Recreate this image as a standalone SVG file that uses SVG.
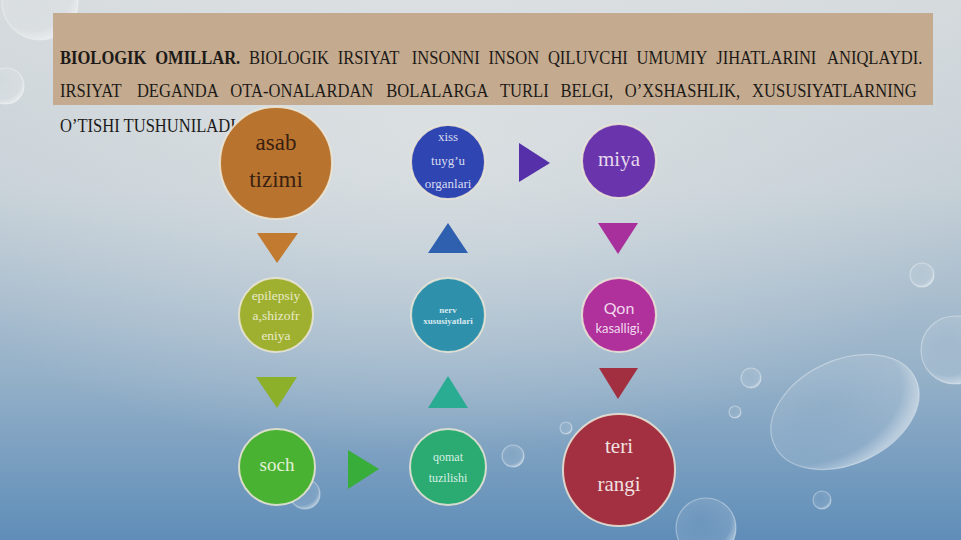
<svg xmlns="http://www.w3.org/2000/svg" width="961" height="540" viewBox="0 0 961 540">
<defs>
<linearGradient id="bg" x1="0" y1="0" x2="0" y2="1">
<stop offset="0" stop-color="#d5dadd"/>
<stop offset="0.35" stop-color="#c4cfd6"/>
<stop offset="0.7" stop-color="#94b0c8"/>
<stop offset="1" stop-color="#5f8db8"/>
</linearGradient>
<radialGradient id="glow" cx="0.45" cy="0.25" r="0.6">
<stop offset="0" stop-color="#e2e5e6" stop-opacity="0.7"/>
<stop offset="1" stop-color="#e2e5e6" stop-opacity="0"/>
</radialGradient>
<radialGradient id="bub" cx="0.4" cy="0.35" r="0.65">
<stop offset="0" stop-color="#ffffff" stop-opacity="0.05"/>
<stop offset="0.8" stop-color="#ffffff" stop-opacity="0.12"/>
<stop offset="1" stop-color="#ffffff" stop-opacity="0.45"/>
</radialGradient>
</defs>
<style>
.hdr{font-family:"Liberation Serif","Times New Roman",serif;font-size:18px;fill:#1c1a18}
.b{font-weight:bold}
.node circle{stroke:#ece6d6;stroke-width:2;stroke-opacity:0.85}
.t{font-family:"Liberation Serif","Times New Roman",serif;text-anchor:middle}
.bubble{fill:url(#bub);stroke:#ffffff;stroke-opacity:0.35;stroke-width:1.2}
</style>
<rect width="961" height="540" fill="url(#bg)"/>
<rect width="961" height="540" fill="url(#glow)"/>
<g id="bubbles">
<circle class="bubble" cx="40" cy="2" r="38"/>
<circle class="bubble" cx="6" cy="86" r="18"/>
<circle class="bubble" cx="922" cy="275" r="12"/>
<circle class="bubble" cx="955" cy="350" r="34"/>
<circle class="bubble" cx="751" cy="378" r="10"/>
<circle class="bubble" cx="735" cy="412" r="6"/>
<circle class="bubble" cx="513" cy="456" r="11"/>
<circle class="bubble" cx="822" cy="500" r="9"/>
<circle class="bubble" cx="566" cy="428" r="6"/>
<circle class="bubble" cx="706" cy="528" r="30"/>
<circle class="bubble" cx="305" cy="494" r="15"/>
<ellipse class="bubble" cx="845" cy="412" rx="78" ry="52" transform="rotate(-25 845 412)"/>
</g>
<rect x="53" y="13" width="880" height="92" fill="#c4aa8e"/>
<g id="header" class="hdr" transform="scale(0.92,1)">
<text class="b" x="65.22" y="64">BIOLOGIK</text>
<text class="b" x="168.70" y="64">OMILLAR.</text>
<text x="270.65" y="64">BIOLOGIK</text>
<text x="367.07" y="64">IRSIYAT</text>
<text x="447.61" y="64">INSONNI</text>
<text x="531.09" y="64">INSON</text>
<text x="595.54" y="64">QILUVCHI</text>
<text x="691.96" y="64">UMUMIY</text>
<text x="778.48" y="64">JIHATLARINI</text>
<text x="898.91" y="64">ANIQLAYDI.</text>
<text x="65.22" y="97">IRSIYAT</text>
<text x="148.80" y="97">DEGANDA</text>
<text x="250.33" y="97">OTA-ONALARDAN</text>
<text x="419.89" y="97">BOLALARGA</text>
<text x="543.48" y="97">TURLI</text>
<text x="609.13" y="97">BELGI,</text>
<text x="679.13" y="97">O’XSHASHLIK,</text>
<text x="817.50" y="97">XUSUSIYATLARNING</text>
<text x="65.22" y="132">O’TISHI TUSHUNILADI</text>
</g>
<g id="connectors">
<polygon points="519,143 519,182 550,163" fill="#5530a8"/>
<polygon points="257,233 298,233 277,263" fill="#c17a30"/>
<polygon points="448,223 468,253 428,253" fill="#2f60b0"/>
<polygon points="598,223 638,223 618,254" fill="#a8309c"/>
<polygon points="256,377 297,377 277,408" fill="#8cb02a"/>
<polygon points="448,376 468,408 428,408" fill="#2aac92"/>
<polygon points="599,368 638,368 618,399" fill="#a12f40"/>
<polygon points="348,450 348,489 379,469" fill="#38ad3a"/>
</g>
<g id="n-asab" class="node">
<circle cx="276" cy="163" r="56" fill="#b8742f"/>
<text class="t" x="276" y="150" font-size="23" fill="#3a2010">asab</text>
<text class="t" x="276" y="187" font-size="23" fill="#3a2010">tizimi</text>
</g>
<g id="n-xiss" class="node">
<circle cx="448" cy="162" r="37" fill="#2f45b2"/>
<text class="t" x="448" y="141" font-size="13" fill="#d8dcf0">xiss</text>
<text class="t" x="448" y="165" font-size="13" fill="#d8dcf0">tuyg’u</text>
<text class="t" x="448" y="188" font-size="13" fill="#d8dcf0">organlari</text>
</g>
<g id="n-miya" class="node">
<circle cx="619" cy="161" r="37" fill="#6a35ac"/>
<text class="t" x="619" y="166" font-size="21" fill="#e6d8ee">miya</text>
</g>
<g id="n-epilepsiya" class="node">
<circle cx="276" cy="315" r="37" fill="#9fb030"/>
<text class="t" x="276" y="300" font-size="13.5" fill="#e8eac8">epilepsiy</text>
<text class="t" x="276" y="320" font-size="13.5" fill="#e8eac8">a,shizofr</text>
<text class="t" x="276" y="340" font-size="13.5" fill="#e8eac8">eniya</text>
</g>
<g id="n-nerv" class="node">
<circle cx="448" cy="315" r="37" fill="#2e90ab"/>
<text class="t" x="448" y="313" font-size="9" font-weight="bold" fill="#d8eaf0">nerv</text>
<text class="t" x="448" y="324" font-size="9" font-weight="bold" fill="#d8eaf0">xususiyatlari</text>
</g>
<g id="n-qon" class="node">
<circle cx="619" cy="315" r="37" fill="#b0309c"/>
<text x="619" y="314" font-family="Lato,'Noto Sans',sans-serif" text-anchor="middle" font-size="16" fill="#f0d8ec">Qon</text>
<text x="619" y="333" font-family="Lato,'Noto Sans',sans-serif" text-anchor="middle" font-size="13" fill="#f0d8ec">kasalligi,</text>
</g>
<g id="n-soch" class="node">
<circle cx="277" cy="467" r="38" fill="#4ab232"/>
<text class="t" x="277" y="471" font-size="19" fill="#e2f0d8">soch</text>
</g>
<g id="n-qomat" class="node">
<circle cx="448" cy="467" r="38" fill="#2bab72"/>
<text class="t" x="448" y="461" font-size="12" fill="#d8f0e4">qomat</text>
<text class="t" x="448" y="482" font-size="12" fill="#d8f0e4">tuzilishi</text>
</g>
<g id="n-teri" class="node">
<circle cx="619" cy="470" r="56" fill="#a33040"/>
<text class="t" x="619" y="453" font-size="21" fill="#f0e0e0">teri</text>
<text class="t" x="619" y="491" font-size="21" fill="#f0e0e0">rangi</text>
</g>
</svg>
